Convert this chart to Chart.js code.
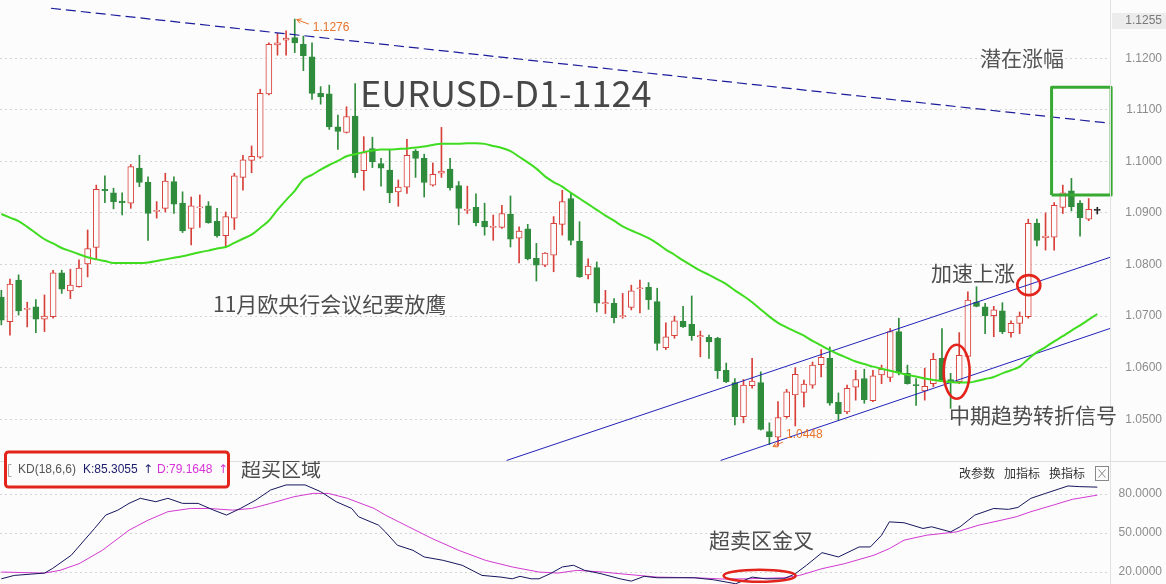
<!DOCTYPE html>
<html><head><meta charset="utf-8">
<script src="https://cdn.jsdelivr.net/npm/chart.js@4.4.0/dist/chart.umd.min.js"></script>
<style>
html,body{margin:0;padding:0;background:#fcfcfc;}
#wrap{position:relative;width:1166px;height:584px;overflow:hidden;background:#fcfcfc;}
#main{position:absolute;left:0;top:0;}
#kd{position:absolute;left:0;top:461px;}
</style></head><body>
<div id="wrap">
<canvas id="main" width="1166" height="461"></canvas>
<canvas id="kd" width="1166" height="123"></canvas>
</div>
<script>
// ---------------- data (EURUSD D1) ----------------
const openP = [1.0737,1.0689,1.0770,1.0713,1.0718,1.0694,1.0699,1.0784,1.0749,1.0757,
1.0801,1.0833,1.0946,1.0939,1.0923,1.0919,1.0987,1.0960,1.0903,1.0909,
1.0961,1.0919,1.0870,1.0910,1.0914,1.0884,1.0856,1.0890,1.0969,1.1002,
1.1008,1.1131,1.1226,1.1235,1.1240,1.1227,1.1203,1.1132,1.1131,1.1067,
1.1056,1.1088,1.0982,1.1025,1.0996,1.0983,1.0941,1.0950,1.1020,1.1006,
1.0954,1.0977,1.0985,1.0953,1.0905,1.0911,1.0884,1.0872,1.0872,1.0898,
1.0851,1.0869,1.0812,1.0799,1.0818,1.0878,1.0928,1.0845,1.0780,1.0794,
1.0724,1.0725,1.0699,1.0717,1.0753,1.0756,1.0728,1.0639,1.0662,1.0690,
1.0684,1.0660,1.0659,1.0657,1.0595,1.0571,1.0505,1.0565,1.0571,1.0476,
1.0465,1.0505,1.0547,1.0552,1.0566,1.0606,1.0618,1.0533,1.0514,1.0562,
1.0579,1.0536,1.0586,1.0581,1.0670,1.0589,1.0567,1.0555,1.0569,1.0618,
1.0577,1.0573,1.0622,1.0727,1.0718,1.0701,1.0710,1.0668,1.0686,1.0699,
1.0880,1.0852,1.0853,1.0911,1.0943,1.0919,1.0888,1.0905];
const highP = [1.0750,1.0772,1.0780,1.0727,1.0732,1.0741,1.0789,1.0789,1.0791,1.0809,
1.0867,1.0954,1.0972,1.0948,1.0939,1.0994,1.1012,1.0970,1.0922,1.0977,
1.0970,1.0941,1.0931,1.0935,1.0922,1.0909,1.0902,1.0977,1.1012,1.1030,
1.1140,1.1230,1.1248,1.1253,1.1276,1.1243,1.1230,1.1145,1.1148,1.1090,
1.1106,1.1151,1.1048,1.1047,1.1006,1.1023,1.0964,1.1043,1.1023,1.1014,
1.0997,1.1066,1.1006,1.0961,1.0952,1.0937,1.0919,1.0896,1.0915,1.0933,
1.0873,1.0878,1.0841,1.0823,1.0893,1.0944,1.0938,1.0883,1.0811,1.0805,
1.0750,1.0734,1.0744,1.0760,1.0770,1.0765,1.0754,1.0687,1.0700,1.0719,
1.0739,1.0671,1.0663,1.0659,1.0609,1.0579,1.0577,1.0618,1.0592,1.0493,
1.0534,1.0558,1.0600,1.0576,1.0611,1.0635,1.0640,1.0551,1.0566,1.0595,
1.0597,1.0595,1.0605,1.0676,1.0696,1.0605,1.0579,1.0599,1.0628,1.0676,
1.0589,1.0668,1.0747,1.0757,1.0725,1.0719,1.0726,1.0691,1.0708,1.0888,
1.0888,1.0900,1.0920,1.0954,1.0967,1.0924,1.0928,1.0911];
const lowP = [1.0683,1.0663,1.0702,1.0679,1.0668,1.0670,1.0696,1.0744,1.0734,1.0756,
1.0776,1.0810,1.0920,1.0908,1.0896,1.0909,1.0951,1.0847,1.0890,1.0902,
1.0899,1.0862,1.0838,1.0872,1.0880,1.0853,1.0834,1.0868,1.0944,1.0978,
1.1006,1.1129,1.1206,1.1206,1.1211,1.1176,1.1120,1.1111,1.1062,1.1023,
1.1055,1.0969,1.0944,1.0988,1.0952,1.0920,1.0913,1.0938,1.0969,1.0931,
1.0952,1.0969,1.0944,1.0877,1.0899,1.0875,1.0857,1.0847,1.0870,1.0834,
1.0803,1.0809,1.0768,1.0796,1.0786,1.0857,1.0838,1.0775,1.0772,1.0708,
1.0705,1.0687,1.0696,1.0712,1.0706,1.0713,1.0634,1.0635,1.0657,1.0678,
1.0653,1.0621,1.0618,1.0579,1.0571,1.0489,1.0493,1.0560,1.0479,1.0451,
1.0448,1.0502,1.0487,1.0524,1.0560,1.0582,1.0527,1.0498,1.0511,1.0537,
1.0531,1.0534,1.0569,1.0573,1.0586,1.0568,1.0527,1.0537,1.0563,1.0574,
1.0521,1.0569,1.0621,1.0718,1.0666,1.0660,1.0666,1.0659,1.0666,1.0696,
1.0836,1.0828,1.0828,1.0899,1.0904,1.0855,1.0885,1.0898];
const closeP = [1.0692,1.0762,1.0710,1.0715,1.0694,1.0700,1.0784,1.0752,1.0760,1.0793,
1.0831,1.0946,1.0943,1.0922,1.0920,1.0990,1.0959,1.0899,1.0905,1.0962,
1.0917,1.0865,1.0914,1.0912,1.0881,1.0856,1.0893,1.0972,1.1003,1.1010,
1.1132,1.1227,1.1230,1.1239,1.1230,1.1205,1.1132,1.1125,1.1067,1.1058,
1.1087,1.0978,1.1017,1.0999,1.0987,1.0939,1.0950,1.1012,1.1006,1.0959,
1.0975,1.0981,1.0949,1.0909,1.0907,1.0881,1.0873,1.0874,1.0899,1.0849,
1.0865,1.0811,1.0799,1.0822,1.0880,1.0922,1.0847,1.0776,1.0797,1.0725,
1.0726,1.0697,1.0701,1.0749,1.0755,1.0732,1.0647,1.0660,1.0691,1.0679,
1.0662,1.0662,1.0650,1.0594,1.0573,1.0505,1.0566,1.0574,1.0480,1.0466,
1.0503,1.0553,1.0587,1.0568,1.0605,1.0620,1.0531,1.0511,1.0560,1.0577,
1.0538,1.0584,1.0597,1.0670,1.0590,1.0569,1.0565,1.0564,1.0616,1.0576,
1.0573,1.0624,1.0731,1.0719,1.0701,1.0712,1.0670,1.0686,1.0700,1.0880,
1.0847,1.0855,1.0915,1.0939,1.0912,1.0891,1.0907,1.0905];
const maLine = [1.0898,1.0891,1.0884,1.0873,1.0861,1.0849,1.0841,1.0832,1.0826,1.0820,
1.0814,1.0810,1.0807,1.0803,1.0803,1.0803,1.0803,1.0804,1.0807,1.0810,
1.0813,1.0816,1.0820,1.0824,1.0827,1.0831,1.0834,1.0842,1.0850,1.0858,
1.0871,1.0885,1.0906,1.0925,1.0943,1.0965,1.0974,1.0984,1.0993,1.1001,
1.1010,1.1014,1.1018,1.1021,1.1023,1.1023,1.1024,1.1025,1.1027,1.1029,
1.1032,1.1034,1.1034,1.1034,1.1035,1.1035,1.1034,1.1030,1.1026,1.1020,
1.1009,1.0998,1.0986,1.0971,1.0960,1.0951,1.0939,1.0928,1.0917,1.0906,
1.0895,1.0885,1.0874,1.0866,1.0859,1.0851,1.0841,1.0829,1.0819,1.0808,
1.0798,1.0788,1.0780,1.0771,1.0762,1.0750,1.0739,1.0727,1.0713,1.0699,
1.0687,1.0678,1.0670,1.0662,1.0652,1.0643,1.0634,1.0626,1.0619,1.0612,
1.0607,1.0602,1.0598,1.0594,1.0590,1.0586,1.0583,1.0579,1.0576,1.0574,
1.0572,1.0571,1.0571,1.0574,1.0578,1.0582,1.0589,1.0595,1.0602,1.0617,
1.0630,1.0640,1.0651,1.0661,1.0672,1.0682,1.0693,1.0704];
const candleIdx = openP.map((_, i) => i);

// trend lines (bar index, price)
const resistIdx = [5.75, 128.47];   const resistVal = [1.1297, 1.1074];
const chanHiIdx = [58.55, 128.47];  const chanHiVal = [1.0420, 1.0814];
const chanLoIdx = [83.35, 128.47];  const chanLoVal = [1.0420, 1.0676];
const targetIdx = [121.7, 121.7, 128.6, 128.6, 121.7];
const targetVal = [1.0935, 1.1144, 1.1144, 1.0935, 1.0935];

// price axis ticks
const priceTicks = [1.05, 1.06, 1.07, 1.08, 1.09, 1.10, 1.11, 1.12];
const priceTopLabel = '1.1255';

// KD(18,6,6)
const kIdx = [0,1.5,5.0,5.9,8.1,10.8,12.1,13.5,14.8,16.1,17.9,19.3,21.0,22.8,24.6,26.1,27.7,29.5,31.2,33.0,35.2,37.0,38.8,40.6,41.4,43.7,44.5,45.9,47.7,49.0,51.2,53.4,55.7,57.9,59.2,60.1,61.4,62.3,63.6,65.0,66.3,67.6,69.5,71.7,73.0,74.5,76.0,80.3,82.5,85.1,87.0,88.6,90.7,92.0,93.3,95.1,97.0,99.4,100.7,102.0,102.9,104.6,106.8,107.8,110.0,111.1,112.8,115.0,116.7,117.8,119.3,121.0,123.6,124.9,127];
const kVal = [14.8,17.4,19.2,22.6,32.9,53.5,63.8,67.6,72.8,76.7,74.1,76.7,72.8,72.8,67.6,63.8,68.9,75.4,83.1,87.0,87.0,81.8,74.1,68.9,62.5,56.1,50.9,40.6,36.7,31.6,29.0,25.2,17.4,16.1,14.8,16.7,14.8,14.8,18.7,23.9,25.2,21.3,18.7,14.8,13.0,16.7,15.6,15.6,14.1,11.0,16.1,14.8,14.8,18.7,25.2,34.9,31.6,39.3,39.3,48.3,58.6,57.9,53.5,54.8,50.9,54.8,63.8,68.9,68.2,69.7,76.7,80.5,86.2,85.7,85.3055];
const dIdx = [0,5.0,6.8,9.0,11.7,14.8,17.0,19.3,21.9,24.1,26.8,29.0,31.2,33.9,36.1,37.9,40.1,43.2,44.5,47.2,49.9,53.0,56.1,59.2,62.3,64.5,66.7,69.7,71.7,76.0,80.3,83.8,86.4,90.7,92.5,95.1,97.7,101.1,102.9,104.6,107.2,110.7,113.3,115.9,117.6,119.3,121.9,124.1,127];
const dVal = [20.0,19.2,21.3,26.4,36.7,52.2,59.9,66.4,68.9,68.9,67.6,68.9,72.8,77.9,80.5,80.5,76.7,68.9,63.8,54.8,45.8,36.7,29.0,23.9,20.0,19.2,21.3,20.0,18.7,16.1,15.6,14.6,14.8,15.6,17.4,22.6,26.4,32.9,38.0,44.5,48.3,50.9,56.1,59.9,62.5,66.4,71.5,75.9,79.1648];
const kdTicks = [20, 50, 80];

// ---------------- styling ----------------
const BG = '#fcfcfc', UP = '#d8403a', DOWN = '#2f8c3c', FLAT = '#222222';
const CJK = '"Noto Sans CJK SC","Noto Sans",sans-serif';
const LAT = '"Liberation Sans",Arial,sans-serif';
Chart.defaults.font.family = LAT;

const candleCol = candleIdx.map(i => closeP[i] > openP[i] ? UP : (closeP[i] < openP[i] ? DOWN : FLAT));
const bodyFill = candleIdx.map(i => closeP[i] > openP[i] ? BG : candleCol[i]);

const X_MIN = -0.154, X_MAX = 128.47;

function txt(ctx, s, x, y, size, color, family, align) {
  ctx.save();
  ctx.font = size + 'px ' + (family || CJK);
  ctx.fillStyle = color;
  ctx.textAlign = align || 'left';
  ctx.textBaseline = 'middle';
  ctx.fillText(s, x, y);
  ctx.restore();
}
function ellipse(ctx, cx, cy, rx, ry) {
  ctx.save();
  ctx.strokeStyle = '#e2241c'; ctx.lineWidth = 2.6;
  ctx.beginPath(); ctx.ellipse(cx, cy, rx, ry, 0, 0, Math.PI * 2); ctx.stroke();
  ctx.restore();
}
function legendBox(ctx, offY) {
  ctx.save();
  ctx.beginPath();
  ctx.roundRect(5.5, 452 + offY, 223, 35, 3);
  ctx.fillStyle = BG; ctx.fill();
  ctx.strokeStyle = '#e3241b'; ctx.lineWidth = 3; ctx.stroke();
  ctx.restore();
}
function arrow(ctx, x1, y1, x2, y2, color) {
  ctx.save();
  ctx.strokeStyle = color; ctx.lineWidth = 1;
  ctx.beginPath(); ctx.moveTo(x1, y1); ctx.lineTo(x2, y2); ctx.stroke();
  const a = Math.atan2(y2 - y1, x2 - x1);
  ctx.beginPath();
  ctx.moveTo(x2 - 5 * Math.cos(a - 0.5), y2 - 5 * Math.sin(a - 0.5));
  ctx.lineTo(x2, y2);
  ctx.lineTo(x2 - 5 * Math.cos(a + 0.5), y2 - 5 * Math.sin(a + 0.5));
  ctx.stroke();
  ctx.restore();
}

const bgPlugin = {
  id: 'bgFill',
  beforeDraw(chart) {
    const c = chart.ctx;
    c.save(); c.fillStyle = BG; c.fillRect(0, 0, chart.width, chart.height); c.restore();
  }
};

const mainAnnot = {
  id: 'mainAnnot',
  afterDraw(chart) {
    const { ctx, chartArea, scales: { x, y } } = chart;
    ctx.save();
    ctx.strokeStyle = '#e0e0e0'; ctx.lineWidth = 1;
    ctx.beginPath(); ctx.moveTo(chartArea.right + 0.5, 0); ctx.lineTo(chartArea.right + 0.5, chart.height); ctx.stroke();
    ctx.fillStyle = '#ececec'; ctx.fillRect(chartArea.right + 2, 13, 60, 16);
    ctx.restore();
    txt(ctx, priceTopLabel, 1162, 21, 12, '#7a7a7a', LAT, 'right');

    txt(ctx, 'EURUSD-D1-1124', 360, 93, 36, '#474747');
    txt(ctx, '潜在涨幅', 980, 58, 21, '#555');
    txt(ctx, '11月欧央行会议纪要放鹰', 213, 304, 21, '#4d4d4d');
    txt(ctx, '加速上涨', 931, 273, 21, '#4d4d4d');
    txt(ctx, '中期趋势转折信号', 949, 415, 21, '#4d4d4d');

    let hi = 0, lo = 0;
    highP.forEach((v, i) => { if (v > highP[hi]) hi = i; });
    lowP.forEach((v, i) => { if (v < lowP[lo]) lo = i; });
    const hx = x.getPixelForValue(hi), hy = y.getPixelForValue(highP[hi]);
    arrow(ctx, hx + 14, hy + 5, hx + 2, hy + 0.5, '#e8742a');
    txt(ctx, highP[hi].toFixed(4), hx + 18, hy + 8.5, 12, '#e8742a', LAT);
    const lx = x.getPixelForValue(lo), ly = y.getPixelForValue(lowP[lo]);
    arrow(ctx, lx + 5, ly - 4, lx - 5, ly + 0.5, '#e8742a');
    txt(ctx, lowP[lo].toFixed(4), lx + 8, ly - 11, 12, '#e8742a', LAT);

    ellipse(ctx, x.getPixelForValue(110.7), y.getPixelForValue(1.0592), 13, 27);
    ellipse(ctx, x.getPixelForValue(119.06), y.getPixelForValue(1.0760), 11.5, 10);

    legendBox(ctx, 0);
  }
};

const pt = (xs, ys) => xs.map((v, k) => ({ x: v, y: ys[k] }));

new Chart(document.getElementById('main'), {
  type: 'bar',
  data: {
    datasets: [
      { type: 'line', data: pt(candleIdx, maLine), borderColor: '#3fdc20', borderWidth: 2, pointRadius: 0, cubicInterpolationMode: 'monotone', order: -3 },
      { type: 'line', data: pt(resistIdx, resistVal), borderColor: '#1c1c9c', borderWidth: 1.2, borderDash: [10, 5], pointRadius: 0, order: -2 },
      { type: 'line', data: pt(chanHiIdx, chanHiVal), borderColor: '#2222b8', borderWidth: 1, pointRadius: 0, order: -2 },
      { type: 'line', data: pt(chanLoIdx, chanLoVal), borderColor: '#2222b8', borderWidth: 1, pointRadius: 0, order: -2 },
      { type: 'line', data: pt(targetIdx, targetVal), borderColor: '#38a933', borderWidth: 3, borderJoinStyle: 'round', pointRadius: 0, order: -4, clip: 6 },
      { type: 'bar', data: candleIdx.map(i => ({ x: i, y: [openP[i], closeP[i]] })), backgroundColor: bodyFill, borderColor: candleCol, borderWidth: 1, borderSkipped: false, barThickness: 6, minBarLength: 1, grouped: false, order: 0 },
      { type: 'bar', data: candleIdx.map(i => ({ x: i, y: [lowP[i], highP[i]] })), backgroundColor: candleCol, borderWidth: 0, barThickness: 1, grouped: false, order: 1 }
    ]
  },
  options: {
    responsive: false, animation: false, devicePixelRatio: 1,
    layout: { padding: { left: 0, right: 4, top: 0, bottom: 0 } },
    plugins: { legend: { display: false }, tooltip: { enabled: false } },
    scales: {
      x: { type: 'linear', min: X_MIN, max: X_MAX, offset: false, display: false, grid: { offset: false } },
      y: {
        position: 'right', min: 1.0419, max: 1.1313,
        afterFit(s) { s.width = 52; s.paddingTop = 0; s.paddingBottom = 0; },
        afterBuildTicks(s) { s.ticks = priceTicks.map(v => ({ value: v })); },
        ticks: { crossAlign: 'far', padding: 0, color: '#8c8c8c', font: { family: LAT, size: 12 }, callback: v => Number(v).toFixed(4) },
        grid: { color: '#d4d4d4', drawTicks: false, lineWidth: 1 },
        border: { display: false, dash: [2, 3] }
      }
    }
  },
  plugins: [bgPlugin, mainAnnot]
});

const kdAnnot = {
  id: 'kdAnnot',
  afterDraw(chart) {
    const { ctx, chartArea, scales: { x, y } } = chart;
    ctx.save();
    ctx.strokeStyle = '#dedede'; ctx.lineWidth = 1;
    ctx.beginPath(); ctx.moveTo(0, 0.5); ctx.lineTo(chart.width, 0.5); ctx.stroke();
    ctx.strokeStyle = '#e0e0e0';
    ctx.beginPath(); ctx.moveTo(chartArea.right + 0.5, 0); ctx.lineTo(chartArea.right + 0.5, chart.height); ctx.stroke();
    ctx.restore();
    legendBox(ctx, -461);
    ctx.save(); ctx.strokeStyle = '#aaa'; ctx.lineWidth = 1;
    ctx.beginPath(); ctx.moveTo(11.5, 3.5); ctx.lineTo(8.5, 3.5); ctx.lineTo(8.5, 15.5); ctx.lineTo(11.5, 15.5); ctx.stroke();
    ctx.restore();
    txt(ctx, 'KD(18,6,6)', 18, 9, 12, '#555', LAT);
    txt(ctx, 'K:' + kVal[kVal.length - 1].toFixed(4), 83, 9, 12, '#1b1b6b', LAT);
    txt(ctx, '↑', 143, 9, 12, '#1b1b6b', '"DejaVu Sans"');
    txt(ctx, 'D:' + dVal[dVal.length - 1].toFixed(4), 157, 9, 12, '#d633d6', LAT);
    txt(ctx, '↑', 218, 9, 12, '#d633d6', '"DejaVu Sans"');
    txt(ctx, '超买区域', 241, 8, 20, '#4d4d4d');
    txt(ctx, '超卖区金叉', 709, 79, 21, '#4d4d4d');
    txt(ctx, '改参数', 959, 12, 12, '#333');
    txt(ctx, '加指标', 1004, 12, 12, '#333');
    txt(ctx, '换指标', 1049, 12, 12, '#333');
    ctx.save(); ctx.strokeStyle = '#888'; ctx.lineWidth = 1;
    ctx.strokeRect(1095.5, 5.5, 13, 14);
    ctx.beginPath(); ctx.moveTo(1098.5, 8.5); ctx.lineTo(1105.5, 16.5); ctx.moveTo(1105.5, 8.5); ctx.lineTo(1098.5, 16.5); ctx.stroke();
    ctx.restore();
    ellipse(ctx, x.getPixelForValue(87.87), y.getPixelForValue(17.1), 36, 6);
  }
};

new Chart(document.getElementById('kd'), {
  type: 'line',
  data: {
    datasets: [
      { data: pt(kIdx, kVal), borderColor: '#16165e', borderWidth: 1, pointRadius: 0, tension: 0 },
      { data: pt(dIdx, dVal), borderColor: '#d23ad2', borderWidth: 1, pointRadius: 0, tension: 0 }
    ]
  },
  options: {
    responsive: false, animation: false, devicePixelRatio: 1,
    layout: { padding: { left: 0, right: 4, top: 0, bottom: 0 } },
    plugins: { legend: { display: false }, tooltip: { enabled: false } },
    scales: {
      x: { type: 'linear', min: X_MIN, max: X_MAX, offset: false, display: false },
      y: {
        position: 'right', min: 10.8, max: 105.4,
        afterFit(s) { s.width = 52; s.paddingTop = 0; s.paddingBottom = 0; },
        afterBuildTicks(s) { s.ticks = kdTicks.map(v => ({ value: v })); },
        ticks: { crossAlign: 'far', padding: 0, color: '#8c8c8c', font: { family: LAT, size: 12 }, callback: v => Number(v).toFixed(4) },
        grid: { color: '#d4d4d4', drawTicks: false, lineWidth: 1 },
        border: { display: false, dash: [2, 3] }
      }
    }
  },
  plugins: [bgPlugin, kdAnnot]
});
</script>
</body></html>
